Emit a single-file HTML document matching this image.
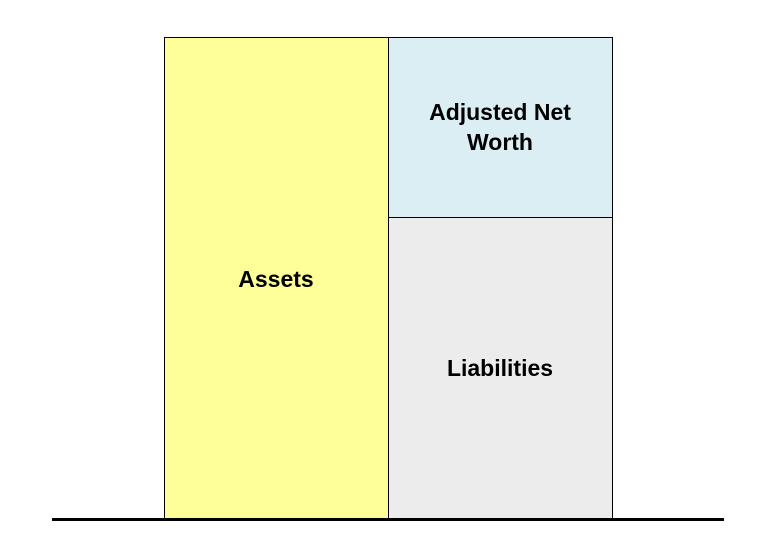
<!DOCTYPE html>
<html><head><style>
html,body{margin:0;padding:0;background:#fff;}
svg{display:block}
text{font-family:"Liberation Sans",Arial,sans-serif;font-weight:bold;font-size:23px;fill:#000}
</style></head><body>
<svg width="771" height="552" xmlns="http://www.w3.org/2000/svg">
<rect x="164.5" y="37.5" width="224" height="482" fill="#ffff99" stroke="#000" stroke-width="1"/>
<rect x="388.5" y="37.5" width="224" height="180" fill="#dbeef4" stroke="#000" stroke-width="1"/>
<rect x="388.5" y="217.5" width="224" height="302" fill="#ececec" stroke="#000" stroke-width="1"/>
<rect x="52" y="518" width="672" height="3" fill="#000"/>
<text x="276" y="287" text-anchor="middle">Assets</text>
<text x="500" y="120" text-anchor="middle">Adjusted Net</text>
<text x="500" y="150" text-anchor="middle">Worth</text>
<text x="500" y="376" text-anchor="middle">Liabilities</text>
</svg>
</body></html>
